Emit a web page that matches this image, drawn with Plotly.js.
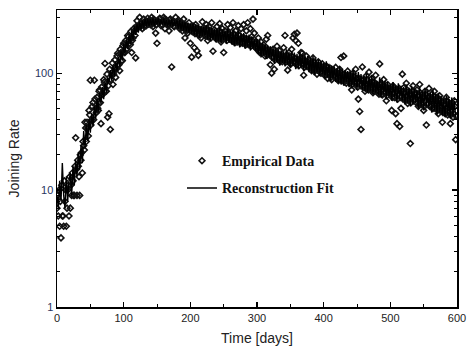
<!DOCTYPE html>
<html>
<head>
<meta charset="utf-8">
<script src="https://cdn.plot.ly/plotly-3.0.1.min.js"></script>
<style>html,body{margin:0;padding:0;background:#fff;}#chart{width:467px;height:354px;}</style>
</head>
<body>
<div id="chart"></div>
<script>
// Time axis: even days 0..598 and odd days 1..599
const evenDays = Array.from({length: 300}, (_, i) => i * 2);
const oddDays = Array.from({length: 300}, (_, i) => i * 2 + 1);

// Empirical joining rate, even days
const empiricalEven = [
  7,6,4.9,3.9,6,4.9,8,4.9,10,6,
  7,9,12,9,28,9,16,9,18,14,
  24,38,26,34,48,87,40,56,87,50,
  62,48,72,37,66,88,121,70,42,45,
  33,96,80,110,92,140,118,105,150,128,
  180,150,160,210,190,175,150,200,230,135,
  280,250,300,265,240,290,270,255,295,280,
  260,300,250,285,220,180,270,295,255,280,
  300,240,285,260,230,290,113,275,250,300,
  265,285,240,275,230,290,200,255,220,270,
  180,137,240,165,260,155,142,230,200,275,
  245,210,260,190,250,220,270,154,235,200,
  250,210,265,185,240,150,230,200,260,215,
  245,200,270,190,230,185,255,210,240,180,
  260,195,230,270,175,240,205,290,220,185,
  170,200,150,185,160,175,140,195,210,150,
  118,100,160,108,145,170,130,155,140,125,
  165,210,135,106,150,120,160,200,215,190,
  220,180,130,150,148,96,125,140,115,130,
  120,105,135,110,118,98,125,112,100,120,
  108,95,115,90,102,110,88,105,96,112,
  100,86,108,136,90,140,95,82,104,88,
  95,72,100,84,108,90,60,47,33,113,
  88,70,95,80,102,75,90,68,84,96,
  78,70,120,82,65,88,74,58,80,68,
  70,48,78,62,45,37,72,35,50,98,
  75,60,82,55,70,25,65,78,58,68,
  72,52,80,60,66,48,70,36,62,74,
  58,66,50,70,55,62,45,64,52,38,
  58,48,62,44,55,37,52,42,58,27
];

// Empirical joining rate, odd days
const empiricalOdd = [
  9,10,8,11,6,12,10,7,11,13,
  11,14,9,16,15,18,13,20,21,26,
  22,34,38,29,44,36,52,40,60,46,
  50,70,56,76,66,84,70,98,78,108,
  88,122,98,130,108,148,118,160,128,172,
  150,190,160,205,180,228,190,240,210,252,
  242,256,250,270,262,250,282,270,262,286,
  276,264,290,274,258,282,272,292,262,278,
  288,266,278,256,284,262,276,252,274,262,
  276,252,266,244,262,240,258,232,252,232,
  246,226,252,218,242,214,238,212,234,220,
  230,208,240,204,228,200,224,206,220,196,
  218,198,228,194,216,200,212,190,222,196,
  208,188,218,182,206,186,212,180,200,182,
  200,174,196,176,194,170,190,172,178,162,
  176,156,170,148,166,150,160,142,158,144,
  152,136,150,130,146,134,144,126,142,130,
  138,124,142,126,136,120,138,124,134,118,
  130,116,134,120,128,112,126,114,124,110,
  122,108,124,104,118,106,116,102,114,102,
  108,96,112,98,106,92,106,94,102,90,
  100,88,102,86,98,84,96,86,94,82,
  92,80,94,82,90,76,90,78,88,76,
  84,74,88,72,82,72,84,70,80,70,
  78,66,80,66,78,68,76,64,74,66,
  72,62,76,62,70,60,74,62,70,60,
  68,58,72,58,66,56,70,58,66,56,
  64,54,68,54,62,52,66,54,62,52,
  60,50,64,50,58,48,60,48,56,46,
  54,45,58,46,54,44,56,45,52,43
];

// Reconstruction fit, even days
const reconstruction = [
  9,7,12,8,17,9,7,13,8,12,
  14,9,16,11,18,13,21,15,24,17,
  32,23,36,26,40,31,45,35,52,41,
  60,47,68,54,76,60,84,68,92,82,
  106,86,116,94,126,104,138,114,156,128,
  178,144,194,160,214,176,230,192,250,212,
  262,222,276,236,282,244,290,250,292,254,
  290,258,294,252,290,262,296,256,286,260,
  292,256,284,250,286,252,290,248,282,254,
  284,240,284,236,276,232,272,228,268,222,
  264,218,270,210,262,206,258,200,254,208,
  252,202,258,194,250,188,244,196,240,184,
  240,188,246,180,236,192,232,178,240,182,
  228,176,236,170,224,178,230,166,218,172,
  220,162,212,168,214,156,206,162,194,154,
  196,146,190,136,182,142,178,132,174,136,
  170,128,166,120,162,124,158,116,156,122,
  154,114,160,118,152,110,154,116,150,108,
  146,108,152,112,144,104,142,108,140,102,
  136,100,140,96,132,102,130,94,126,98,
  122,90,126,92,120,86,116,90,114,84,
  110,82,114,80,108,78,106,84,104,76,
  102,74,106,78,100,72,102,76,98,72,
  94,70,98,68,92,70,96,66,90,68,
  86,64,92,62,88,66,86,60,84,64,
  80,58,84,62,78,56,82,60,78,58,
  76,54,80,56,74,52,78,54,74,56,
  72,50,76,52,70,48,74,52,70,50,
  68,46,72,48,66,44,68,46,64,44,
  60,42,64,44,60,41,62,43,58,42
];

const xTickVals = [0,100,200,300,400,500,600];
const yTickVals = [1,10,100];
const yTickText = ['1','10','100'];

const traces = [
  {
    x: evenDays.concat(oddDays), y: empiricalEven.concat(empiricalOdd),
    type: 'scatter', mode: 'markers',
    name: 'Empirical Data', legendgroup: 'a',
    marker: {symbol: 'diamond-open', size: 4.5, color: '#111', line: {width: 1.6, color: '#111'}}
  },
  {
    x: evenDays, y: reconstruction, type: 'scatter', mode: 'lines',
    name: 'Reconstruction Fit', legendgroup: 'b',
    line: {color: '#000', width: 1.4}
  }
];

const layout = {
  width: 467, height: 354,
  margin: {l: 57, r: 10, t: 10, b: 47},
  paper_bgcolor: '#fff', plot_bgcolor: '#fff',
  showlegend: true,
  legend: {
    x: 0.3125, y: 0.545, xanchor: 'left', yanchor: 'top',
    bgcolor: 'rgba(0,0,0,0)', borderwidth: 0,
    traceorder: 'grouped', tracegroupgap: 6,
    font: {family: 'Liberation Serif, Times New Roman, serif', size: 14, color: '#111', weight: 'bold'}
  },
  xaxis: {
    range: [0, 600], tickvals: xTickVals,
    ticks: 'inside', ticklen: 5, tickwidth: 1.2, tickcolor: '#000',
    minor: {dtick: 50, ticks: 'inside', ticklen: 3, tickwidth: 1, tickcolor: '#000'},
    showline: true, linecolor: '#000', linewidth: 1.5, mirror: 'ticks',
    showgrid: false, zeroline: false,
    tickfont: {family: 'Liberation Sans, Arial, sans-serif', size: 11, color: '#222'},
    title: {text: 'Time [days]', standoff: 10, font: {family: 'Liberation Sans, Arial, sans-serif', size: 14, color: '#222'}}
  },
  yaxis: {
    type: 'log', range: [0, 2.54],
    tickvals: yTickVals, ticktext: yTickText,
    ticks: 'inside', ticklen: 5, tickwidth: 1.2, tickcolor: '#000',
    minor: {dtick: 'D1', ticks: 'inside', ticklen: 3, tickwidth: 1, tickcolor: '#000'},
    showline: true, linecolor: '#000', linewidth: 1.5, mirror: 'ticks',
    showgrid: false, zeroline: false,
    tickfont: {family: 'Liberation Sans, Arial, sans-serif', size: 11, color: '#2a3560'},
    title: {text: 'Joining Rate', standoff: 12, font: {family: 'Liberation Sans, Arial, sans-serif', size: 14, color: '#222'}}
  }
};

Plotly.newPlot('chart', traces, layout, {displayModeBar: false, staticPlot: true});
</script>
</body>
</html>
